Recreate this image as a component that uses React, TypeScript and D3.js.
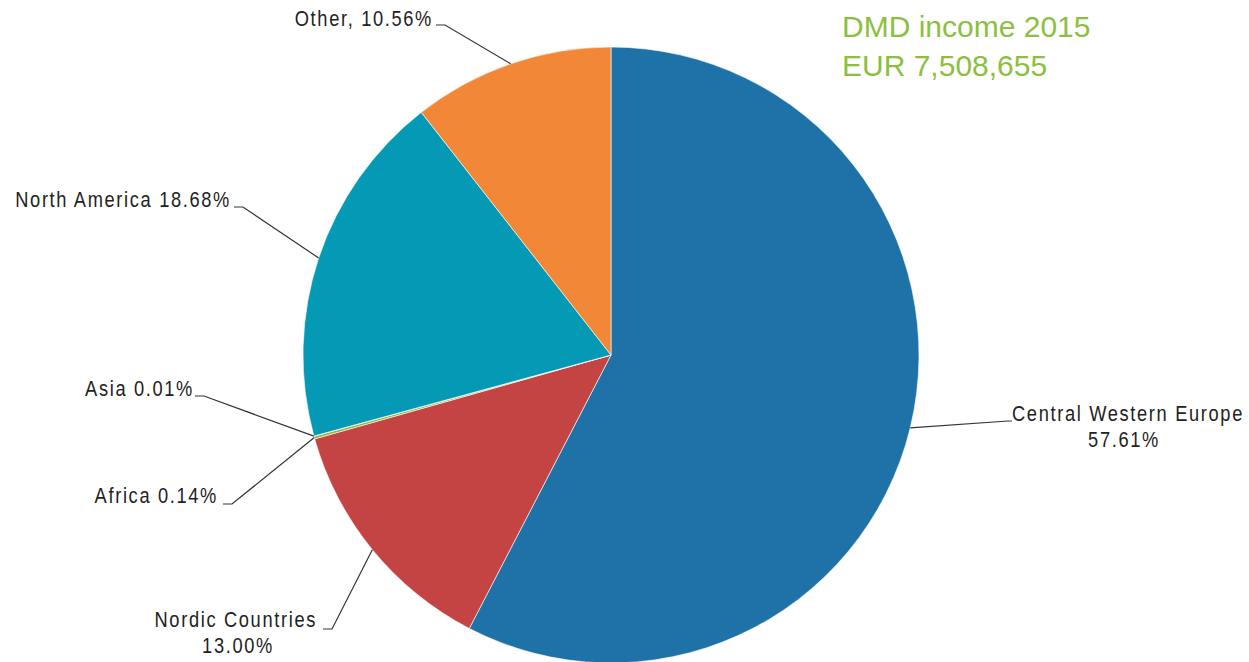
import React from "react";
import * as d3 from "d3";

const categories = ["Central Western Europe", "Nordic Countries", "Africa", "Asia", "North America", "Other"];
const shares = [57.61, 13.0, 0.14, 0.01, 18.68, 10.56];
const labelLines = [
  ["Central Western Europe", "57.61%"],
  ["Nordic Countries", "13.00%"],
  ["Africa 0.14%"],
  ["Asia 0.01%"],
  ["North America 18.68%"],
  ["Other, 10.56%"],
];
const titleLines = ["DMD income 2015", "EUR 7,508,655"];

const colors = ["#1e72a8", "#c34443", "#8cb83c", "#6f4e9a", "#0499b4", "#f28737"];

// label layout: elbow point, text anchor, side
const layout = [
  { ex: 1008, ey: 421, side: "right", tx: 1012, ty: 421, cx: 1124 },
  { ex: 332, ey: 629, side: "left", tx: 317, ty: 627, cx: 238 },
  { ex: 232, ey: 504, side: "left", tx: 218, ty: 503 },
  { ex: 204, ey: 396, side: "left", tx: 194, ty: 396 },
  { ex: 243, ey: 207, side: "left", tx: 231, ty: 207 },
  { ex: 445, ey: 25, side: "left", tx: 433, ty: 26 },
];

const W = 1249;
const H = 662;
const CX = 611;
const CY = 355;
const R = 308;
const SX = 0.83;

export default function App() {
  const pie = d3.pie<number>().sort(null).value((d) => d);
  const arcs = pie(shares);
  const arc = d3.arc<d3.PieArcDatum<number>>().innerRadius(0).outerRadius(R);
  const edge = d3.arc<d3.PieArcDatum<number>>().innerRadius(R).outerRadius(R);
  const labelFont = "'Liberation Sans', Arial, sans-serif";

  const label = (s: string, x: number, y: number, anchor: string, key: string) => (
    <text
      key={key}
      transform={`translate(${x},${y}) scale(${SX},1)`}
      textAnchor={anchor}
      fontFamily={labelFont}
      fontSize={22}
      letterSpacing={2}
      fill="#222"
    >
      {s}
    </text>
  );

  return (
    <svg width={W} height={H} style={{ position: "absolute", left: 0, top: 0, background: "#fff" }}>
      <g transform={`translate(${CX},${CY})`}>
        {arcs.map((a, i) => (
          <path key={i} d={arc(a) || ""} fill={colors[i]} stroke="#fff" strokeWidth={0.6} />
        ))}
      </g>
      {arcs.map((a, i) => {
        const [px, py] = edge.centroid(a);
        const L = layout[i];
        const sx = CX + px;
        const sy = CY + py;
        const hx = L.side === "right" ? L.ex + 4 : L.ex - 9;
        const lines = labelLines[i];
        return (
          <g key={i}>
            <polyline
              points={`${sx},${sy} ${L.ex},${L.ey} ${hx},${L.ey}`}
              fill="none"
              stroke="#333"
              strokeWidth={1.2}
            />
            {label(lines[0], L.tx, L.ty, L.side === "right" ? "start" : "end", "a")}
            {lines.length > 1 && label(lines[1], L.cx as number, L.ty + 26, "middle", "b")}
          </g>
        );
      })}
      {titleLines.map((t, i) => (
        <text
          key={i}
          x={842}
          y={37 + i * 39}
          fontFamily="'Liberation Sans', Arial, sans-serif"
          fontSize={30}
          fill="#8cbf3f"
        >
          {t}
        </text>
      ))}
    </svg>
  );
}
